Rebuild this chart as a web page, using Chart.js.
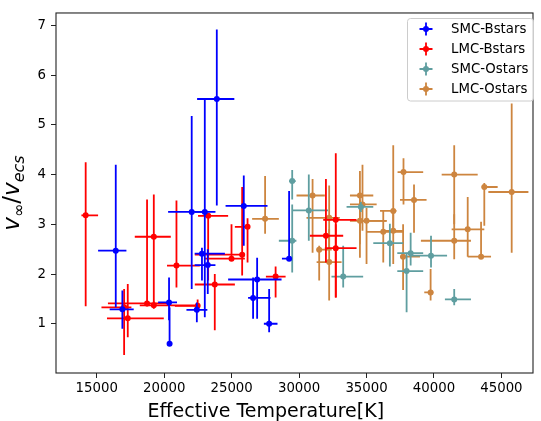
<!DOCTYPE html>
<html>
<head>
<meta charset="utf-8">
<script src="https://cdn.jsdelivr.net/npm/chart.js@4"></script>
<style>
html,body{margin:0;padding:0;background:#fff;}
canvas{display:block;}
</style>
</head>
<body>
<canvas id="c" width="541" height="421"></canvas>
<script>
// ---------- data ----------
const seriesNames = ['SMC-Bstars', 'LMC-Bstars', 'SMC-Ostars', 'LMC-Ostars'];
const seriesColors = ['#0000ff', '#ff0000', '#5f9ea0', '#cd853f'];

const xTicks = [15000, 20000, 25000, 30000, 35000, 40000, 45000];
const yTicks = [1, 2, 3, 4, 5, 6, 7];

// SMC-Bstars
const smcB_T   = [16410, 16900, 20360, 20400, 22040, 23010, 22800, 23230, 22420, 23900, 25900, 26890, 26590, 27780, 29260];
const smcB_V   = [2.47, 1.29, 1.43, 0.60, 3.25, 3.25, 2.41, 2.18, 1.28, 5.52, 3.37, 1.89, 1.52, 1.00, 2.31];
const smcB_Tlo = [15100, 15960, 19550, 20400, 20290, 22270, 22260, 22260, 21650, 22440, 24550, 24740, 26220, 27390, 28730];
const smcB_Thi = [17200, 17740, 20950, 20400, 23010, 23800, 24500, 23800, 23200, 25200, 27660, 28700, 27880, 28400, 29420];
const smcB_Vlo = [1.33, 0.90, 1.07, 0.60, 1.70, 1.13, 1.87, 1.60, 1.03, 3.38, 2.57, 1.10, 1.10, 0.83, 2.31];
const smcB_Vhi = [4.20, 1.67, 1.93, 1.33, 5.18, 5.52, 2.53, 2.50, 1.43, 6.92, 3.98, 2.33, 1.93, 1.70, 3.67];

// LMC-Bstars
const lmcB_T   = [14180, 17030, 17300, 18730, 19230, 19230, 22480, 20910, 23260, 24990, 25780, 26180, 23750, 28260, 32720, 31990, 32720];
const lmcB_V   = [3.18, 1.33, 1.11, 1.41, 2.75, 1.37, 1.36, 2.17, 3.17, 2.31, 2.39, 2.95, 1.79, 1.95, 3.09, 2.77, 2.52];
const lmcB_Tlo = [13865, 15350, 15760, 15830, 17820, 18190, 20790, 20210, 22510, 23010, 22270, 25240, 22270, 27540, 31790, 30800, 31910];
const lmcB_Thi = [15100, 17570, 19970, 20340, 20490, 22270, 22480, 22640, 24740, 25980, 25980, 26350, 25240, 29000, 34260, 33270, 34260];
const lmcB_Vlo = [1.35, 0.37, 0.73, 1.35, 1.37, 1.30, 1.23, 1.73, 1.87, 2.27, 1.97, 2.23, 0.87, 1.53, 1.53, 2.23, 1.53];
const lmcB_Vhi = [4.25, 1.70, 1.80, 3.50, 3.60, 1.45, 1.49, 3.48, 3.23, 3.00, 3.75, 3.12, 2.00, 2.15, 4.43, 3.91, 3.00];

// SMC-Ostars
const smcO_T   = [29490, 29490, 30720, 33270, 34580, 36730, 38270, 37970, 39780, 41500];
const smcO_V   = [3.87, 2.67, 3.28, 1.95, 3.35, 2.62, 2.42, 2.06, 2.37, 1.49];
const smcO_Tlo = [29260, 28500, 29480, 32400, 33520, 35500, 37280, 37280, 38220, 40810];
const smcO_Thi = [29750, 29800, 32150, 34750, 35500, 37720, 39200, 39200, 40970, 42740];
const smcO_Vlo = [3.50, 2.03, 2.67, 1.73, 3.25, 2.15, 2.17, 1.23, 2.13, 1.37];
const smcO_Vhi = [4.09, 3.40, 4.00, 2.57, 3.45, 3.01, 2.83, 2.43, 2.77, 1.70];

// LMC-Ostars
const lmcO_T   = [27480, 31000, 32230, 31490, 32230, 34510, 34700, 34510, 35000, 36240, 36980, 36980, 37740, 37710, 38520, 39750, 41500, 41500, 42500, 43490, 43730, 45760];
const lmcO_V   = [3.11, 3.58, 3.13, 2.49, 2.24, 3.58, 3.40, 3.07, 3.07, 2.85, 3.27, 2.87, 4.05, 2.35, 3.49, 1.63, 4.00, 2.67, 2.90, 2.35, 3.75, 3.65];
const lmcO_Tlo = [26520, 29810, 30550, 31300, 31300, 33770, 33770, 33770, 34500, 35000, 36000, 36370, 37300, 37480, 37480, 39280, 40570, 39030, 41310, 42500, 43540, 44030];
const lmcO_Thi = [28500, 31910, 33020, 32420, 33150, 35500, 35750, 36490, 36490, 37720, 37220, 37720, 39200, 38960, 39450, 39950, 43240, 42740, 43730, 44230, 44720, 47000];
const lmcO_Vlo = [2.81, 2.43, 2.50, 1.87, 1.47, 2.33, 2.87, 2.60, 2.20, 2.23, 2.90, 2.20, 3.40, 1.68, 2.83, 1.47, 3.00, 2.30, 2.35, 2.35, 2.97, 2.43];
const lmcO_Vhi = [3.97, 3.91, 3.78, 2.57, 2.90, 4.07, 4.20, 3.50, 3.33, 3.27, 4.59, 3.27, 4.33, 3.00, 3.80, 2.10, 4.59, 3.20, 3.55, 3.05, 3.83, 5.43];

const xTitle = 'Effective Temperature[K]';

// ---------- build datasets ----------
const raw = [
  [smcB_T, smcB_V, smcB_Tlo, smcB_Thi, smcB_Vlo, smcB_Vhi],
  [lmcB_T, lmcB_V, lmcB_Tlo, lmcB_Thi, lmcB_Vlo, lmcB_Vhi],
  [smcO_T, smcO_V, smcO_Tlo, smcO_Thi, smcO_Vlo, smcO_Vhi],
  [lmcO_T, lmcO_V, lmcO_Tlo, lmcO_Thi, lmcO_Vlo, lmcO_Vhi]
];
const datasets = raw.map((r, k) => ({
  label: seriesNames[k],
  data: r[0].map((t, i) => ({ x: t, y: r[1][i] })),
  tLo: r[2], tHi: r[3], vLo: r[4], vHi: r[5],
  backgroundColor: seriesColors[k],
  borderColor: seriesColors[k],
  borderWidth: 0,
  pointRadius: 3,
  pointHoverRadius: 3,
  clip: false
}));

const FONT = '"DejaVu Sans", "Liberation Sans", sans-serif';

const errorBars = {
  id: 'errorBars',
  beforeDatasetDraw(chart, args) {
    const ds = chart.data.datasets[args.index];
    const xs = chart.scales.x, ys = chart.scales.y, c = chart.ctx;
    const a = chart.chartArea;
    c.save();
    c.beginPath(); c.rect(a.left, a.top, a.right - a.left, a.bottom - a.top); c.clip();
    c.strokeStyle = ds.borderColor;
    c.lineWidth = 1.8;
    c.lineCap = 'butt';
    ds.data.forEach((p, i) => {
      const px = xs.getPixelForValue(p.x), py = ys.getPixelForValue(p.y);
      c.beginPath();
      c.moveTo(xs.getPixelForValue(ds.tLo[i]), py);
      c.lineTo(xs.getPixelForValue(ds.tHi[i]), py);
      c.moveTo(px, ys.getPixelForValue(ds.vLo[i]));
      c.lineTo(px, ys.getPixelForValue(ds.vHi[i]));
      c.stroke();
    });
    c.restore();
  }
};

const decorations = {
  id: 'decorations',
  afterDraw(chart) {
    const c = chart.ctx, a = chart.chartArea;
    // frame
    c.save();
    c.strokeStyle = '#222';
    c.lineWidth = 1.1;
    c.strokeRect(a.left, a.top, a.right - a.left, a.bottom - a.top);
    c.restore();

    // x title
    c.save();
    c.fillStyle = '#000';
    c.font = '19px ' + FONT;
    c.textAlign = 'left';
    c.textBaseline = 'alphabetic';
    c.fillText(xTitle, 147.5, 417);
    c.restore();

    // y title (mathtext-like v_inf / v_ecs)
    c.save();
    c.fillStyle = '#000';
    c.translate(18.5, (a.top + a.bottom) / 2);
    c.rotate(-Math.PI / 2);
    c.textBaseline = 'alphabetic';
    const parts = [
      { t: 'v', f: 'italic 23px ' + FONT, dy: 0 },
      { t: '\u221e', f: '16px ' + FONT, dy: 5 },
      { t: '/', f: '23px ' + FONT, dy: 0 },
      { t: 'v', f: 'italic 23px ' + FONT, dy: 0 },
      { t: 'ecs', f: 'italic 16px ' + FONT, dy: 5 }
    ];
    let total = 0;
    parts.forEach(p => { c.font = p.f; p.w = c.measureText(p.t).width; total += p.w; });
    let x = -total / 2;
    parts.forEach(p => { c.font = p.f; c.fillText(p.t, x, p.dy); x += p.w; });
    c.restore();

    // legend
    c.save();
    const lx = 407.5, ly = 18.5, lw = 126, lh = 82.5, r = 3;
    c.beginPath();
    c.moveTo(lx + r, ly);
    c.arcTo(lx + lw, ly, lx + lw, ly + lh, r);
    c.arcTo(lx + lw, ly + lh, lx, ly + lh, r);
    c.arcTo(lx, ly + lh, lx, ly, r);
    c.arcTo(lx, ly, lx + lw, ly, r);
    c.closePath();
    c.fillStyle = 'rgba(255,255,255,0.8)';
    c.fill();
    c.strokeStyle = '#cccccc';
    c.lineWidth = 1;
    c.stroke();
    chart.data.datasets.forEach((ds, k) => {
      const yy = 29 + k * 20;
      const mx = 426;
      c.strokeStyle = ds.borderColor;
      c.lineWidth = 1.8;
      c.beginPath();
      c.moveTo(mx - 6.5, yy); c.lineTo(mx + 6.5, yy);
      c.moveTo(mx, yy - 6.5); c.lineTo(mx, yy + 6.5);
      c.stroke();
      c.fillStyle = ds.backgroundColor;
      c.beginPath(); c.arc(mx, yy, 3, 0, Math.PI * 2); c.fill();
      c.fillStyle = '#000';
      c.font = '13.3px ' + FONT;
      c.textAlign = 'left';
      c.textBaseline = 'middle';
      c.fillText(ds.label, 451, yy + 0.5);
    });
    c.restore();
  }
};

new Chart(document.getElementById('c'), {
  type: 'scatter',
  data: { datasets },
  options: {
    responsive: false,
    animation: false,
    events: [],
    layout: { padding: { top: 11, right: 8, left: 0, bottom: 0 } },
    plugins: { legend: { display: false }, tooltip: { enabled: false } },
    scales: {
      x: {
        type: 'linear',
        min: 11980, max: 47340,
        afterBuildTicks: s => { s.ticks = xTicks.map(v => ({ value: v })); },
        afterFit: s => { s.height = 48; },
        ticks: { font: { family: FONT, size: 13.3 }, color: '#000', padding: 3, maxRotation: 0, autoSkip: false, callback: v => String(v) },
        grid: { drawOnChartArea: false, drawTicks: true, tickLength: 5, color: '#222', lineWidth: 1 },
        border: { display: false }
      },
      y: {
        type: 'linear',
        min: 0.01, max: 7.25,
        afterBuildTicks: s => { s.ticks = yTicks.map(v => ({ value: v })); },
        afterFit: s => { s.width = 56; },
        ticks: { font: { family: FONT, size: 13.3 }, color: '#000', padding: 5, autoSkip: false, callback: v => String(v) },
        grid: { drawOnChartArea: false, drawTicks: true, tickLength: 5, color: '#222', lineWidth: 1 },
        border: { display: false }
      }
    }
  },
  plugins: [errorBars, decorations]
});
</script>
</body>
</html>
